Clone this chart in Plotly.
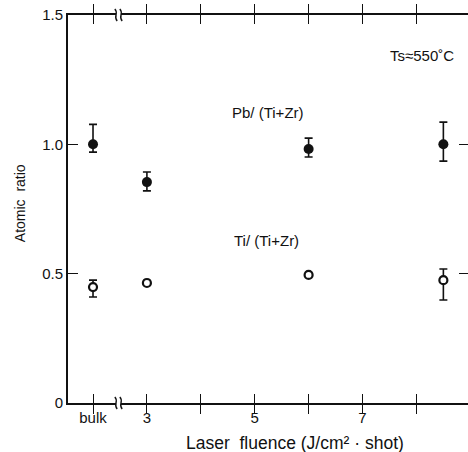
import plotly.graph_objects as go

# Fluence positions (bulk drawn left of the axis break at position 2)
x_pos = [2, 3, 6, 8.5]
tick_vals = [2, 3, 4, 5, 6, 7, 8]
tick_text = ["bulk", "3", "", "5", "", "7", ""]

# Pb/(Ti+Zr) ratio with asymmetric error bars
pb_ratio = [1.00, 0.854, 0.982, 1.00]
pb_err_plus = [0.077, 0.039, 0.042, 0.086]
pb_err_minus = [0.030, 0.034, 0.031, 0.065]

# Ti/(Ti+Zr) ratio (no error bars at 3 and 6)
ti_ratio = [0.448, 0.464, 0.495, 0.475]
ti_err_plus = [0.027, None, None, 0.043]
ti_err_minus = [0.038, None, None, 0.077]

y_tick_vals = [0, 0.5, 1.0, 1.5]
y_tick_text = ["0", "0.5", "1.0", "1.5"]

BREAK_X = 2.473  # position of the axis break between bulk and 3

INK = "#111111"
FONT = "Liberation Sans, Arial, sans-serif"

fig = go.Figure()

fig.add_trace(go.Scatter(
    x=x_pos, y=pb_ratio, mode="markers",
    marker=dict(symbol="circle", size=10, color=INK),
    error_y=dict(type="data", symmetric=False, array=pb_err_plus,
                 arrayminus=pb_err_minus, color=INK, thickness=1.6, width=4),
    showlegend=False,
))

fig.add_trace(go.Scatter(
    x=x_pos, y=ti_ratio, mode="markers",
    marker=dict(symbol="circle", size=8, color="white", line=dict(width=2.2, color=INK)),
    error_y=dict(type="data", symmetric=False, array=ti_err_plus,
                 arrayminus=ti_err_minus, color=INK, thickness=1.6, width=4),
    showlegend=False,
))

# carrier for the right-hand tick marks
fig.add_trace(go.Scatter(x=[], y=[], yaxis="y2", showlegend=False))

fig.update_layout(
    width=468, height=452,
    margin=dict(l=68, r=0, t=15, b=49),
    paper_bgcolor="white", plot_bgcolor="white",
    font=dict(family=FONT, size=15, color=INK),
    xaxis=dict(
        range=[1.536, 8.957], tickvals=tick_vals, ticktext=tick_text,
        ticks="inside", ticklen=9, tickwidth=1.3, tickcolor=INK,
        showline=True, linewidth=1.6, linecolor=INK, mirror="allticks",
        showgrid=False, zeroline=False,
        tickfont=dict(family=FONT, size=15, color=INK),
    ),
    yaxis=dict(
        range=[0, 1.5], tickvals=y_tick_vals, ticktext=y_tick_text,
        ticks="inside", ticklen=10, tickwidth=1.3, tickcolor=INK,
        showline=True, linewidth=2, linecolor=INK, mirror=False,
        showgrid=False, zeroline=False,
        tickfont=dict(family=FONT, size=15, color=INK),
    ),
    yaxis2=dict(
        range=[0, 1.5], overlaying="y", side="right",
        tickvals=[0.5, 1.0], ticks="inside", ticklen=9, tickwidth=1, tickcolor=INK,
        showticklabels=False, showline=False, showgrid=False, zeroline=False,
    ),
)

annotations = [
    dict(x=5.25, y=1.125, xref="x", yref="y", text="Pb/ (Ti+Zr)", showarrow=False),
    dict(x=5.21, y=0.63, xref="x", yref="y", text="Ti/ (Ti+Zr)", showarrow=False),
    dict(x=8.10, y=1.345, xref="x", yref="y", text="Ts≈550˚C", showarrow=False),
    dict(x=0.5675, y=-0.103, xref="paper", yref="paper",
         xanchor="center", yanchor="middle",
         text="Laser  fluence (J/cm² · shot)", showarrow=False, font=dict(size=17.5)),
    dict(x=-0.12, y=0.515, xref="paper", yref="paper", text="Atomic  ratio",
         xanchor="center", yanchor="middle",
         textangle=-90, showarrow=False, font=dict(size=14)),
]
fig.update_layout(annotations=annotations)

# axis break marks: a white gap with two wavy strokes on the bottom and top axes
dx = 1 / 53.9    # data units per pixel along x
dy = 1 / 388.0   # paper units per pixel along y
shapes = []
for yp in (0.0, 1.0):
    shapes.append(dict(
        type="rect", xref="x", yref="paper", layer="above",
        x0=BREAK_X - 2.5 * dx, x1=BREAK_X + 2.5 * dx,
        y0=yp - 3 * dy, y1=yp + 3 * dy,
        fillcolor="white", line=dict(width=0),
    ))
    for off in (-2.5, 2.5):
        xc = BREAK_X + off * dx
        path = (f"M {xc - 1.2 * dx},{yp + 6 * dy} "
                f"C {xc + 3 * dx},{yp + 2 * dy} {xc - 3 * dx},{yp - 2 * dy} "
                f"{xc + 1.2 * dx},{yp - 6 * dy}")
        shapes.append(dict(
            type="path", xref="x", yref="paper", layer="above", path=path,
            line=dict(color=INK, width=1.4),
        ))
fig.update_layout(shapes=shapes)

fig.write_html("out.html")
